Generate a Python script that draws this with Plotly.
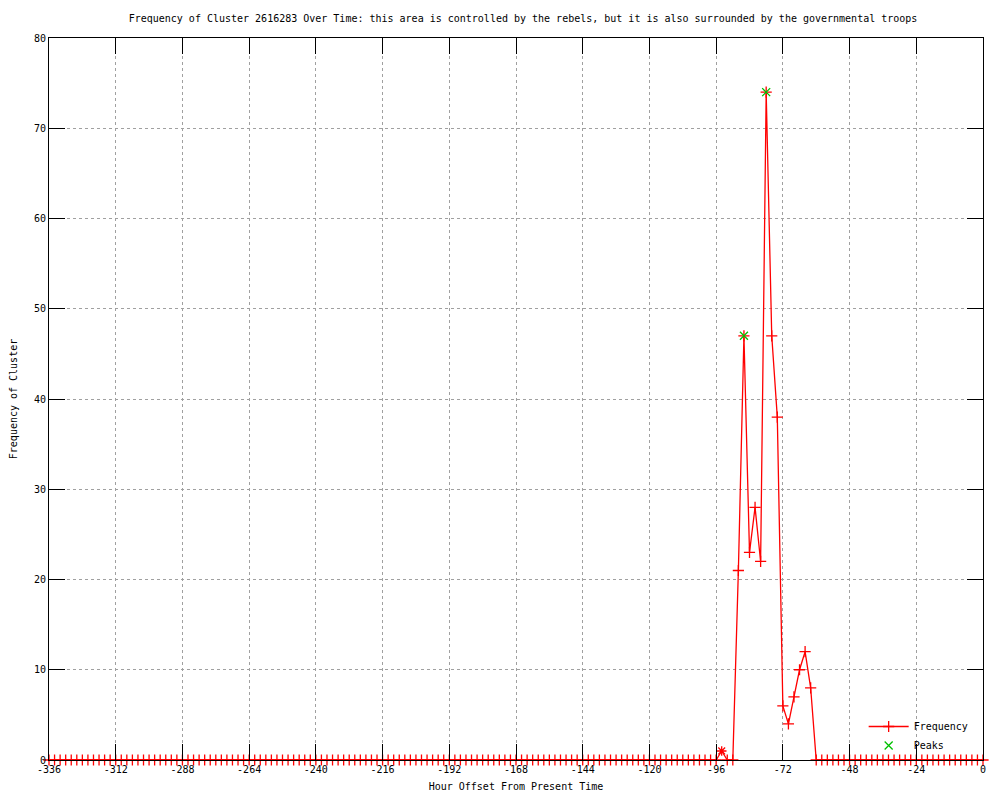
import plotly.graph_objects as go

# Hours offset, every 2 hours from -336 to 0
hours = list(range(-336, 1, 2))

frequency = [
    0, 0, 0, 0, 0, 0, 0, 0, 0, 0, 0, 0, 0, 0, 0, 0, 0, 0, 0, 0,
    0, 0, 0, 0, 0, 0, 0, 0, 0, 0, 0, 0, 0, 0, 0, 0, 0, 0, 0, 0,
    0, 0, 0, 0, 0, 0, 0, 0, 0, 0, 0, 0, 0, 0, 0, 0, 0, 0, 0, 0,
    0, 0, 0, 0, 0, 0, 0, 0, 0, 0, 0, 0, 0, 0, 0, 0, 0, 0, 0, 0,
    0, 0, 0, 0, 0, 0, 0, 0, 0, 0, 0, 0, 0, 0, 0, 0, 0, 0, 0, 0,
    0, 0, 0, 0, 0, 0, 0, 0, 0, 0, 0, 0, 0, 0, 0, 0, 0, 0, 0, 0,
    0,
    1, 0, 0, 21, 47, 23, 28, 22, 74, 47, 38, 6, 4, 7, 10, 12, 8,
    0, 0, 0, 0, 0, 0, 0, 0, 0, 0, 0, 0, 0, 0, 0, 0, 0, 0, 0, 0,
    0, 0, 0, 0, 0, 0, 0, 0, 0, 0, 0,
]

peak_hours = [-86, -78]
peak_values = [47, 74]

x_tick_vals = [-336, -312, -288, -264, -240, -216, -192, -168, -144, -120, -96, -72, -48, -24, 0]
x_tick_text = ["-336", "-312", "-288", "-264", "-240", "-216", "-192", "-168", "-144", "-120",
               "-96", "-72", "-48", "-24", "0"]
y_tick_vals = [0, 10, 20, 30, 40, 50, 60, 70, 80]

star_hours = [-94]

symbols = ["asterisk-open" if h in star_hours else "cross-thin-open" for h in hours]

FONT = "DejaVu Sans Mono"
RED = "#ff0000"
GREEN = "#00c000"

fig = go.Figure()
fig.add_trace(go.Scatter(
    x=hours, y=frequency, name="Frequency", mode="lines+markers",
    line=dict(color=RED, width=1.3),
    marker=dict(symbol=symbols, size=8, color=RED, line=dict(color=RED, width=1.3)),
    cliponaxis=False,
))
fig.add_trace(go.Scatter(
    x=peak_hours, y=peak_values, name="Peaks", mode="markers",
    marker=dict(symbol="x-thin-open", size=8, color=GREEN, line=dict(color=GREEN, width=1.3)),
    cliponaxis=False,
))

axis_common = dict(
    showline=True, linecolor="black", linewidth=1, mirror="ticks",
    ticks="inside", ticklen=16, tickcolor="black", tickwidth=1,
    showgrid=True, gridcolor="#a0a0a0", griddash="dot", gridwidth=1,
    zeroline=False, automargin=False,
    tickfont=dict(family=FONT, size=10, color="black"),
)

fig.update_layout(
    width=1000, height=800,
    paper_bgcolor="white", plot_bgcolor="white",
    margin=dict(l=41, r=25, t=30, b=48),
    font=dict(family=FONT, size=10, color="black"),
    title=dict(
        text="Frequency of Cluster 2616283 Over Time: this area is controlled by the rebels, but it is also surrounded by the governmental troops",
        x=0.515, xanchor="center", y=0.9875, yanchor="middle",
        font=dict(family=FONT, size=10, color="black"),
    ),
    xaxis=dict(
        range=[-336, 0], tickvals=x_tick_vals, ticktext=x_tick_text,
        title=dict(text="Hour Offset From Present Time", font=dict(family=FONT, size=10), standoff=8),
        **axis_common,
    ),
    yaxis=dict(
        range=[0, 80], tickvals=y_tick_vals,
        title=dict(text="Frequency of Cluster", font=dict(family=FONT, size=10), standoff=14),
        **axis_common,
    ),
    legend=dict(
        x=0.99, y=0.0, xanchor="right", yanchor="bottom",
        bgcolor="rgba(0,0,0,0)", font=dict(family=FONT, size=10),
        tracegroupgap=0, itemwidth=40,
    ),
    showlegend=True,
)

fig.write_html("out.html")
